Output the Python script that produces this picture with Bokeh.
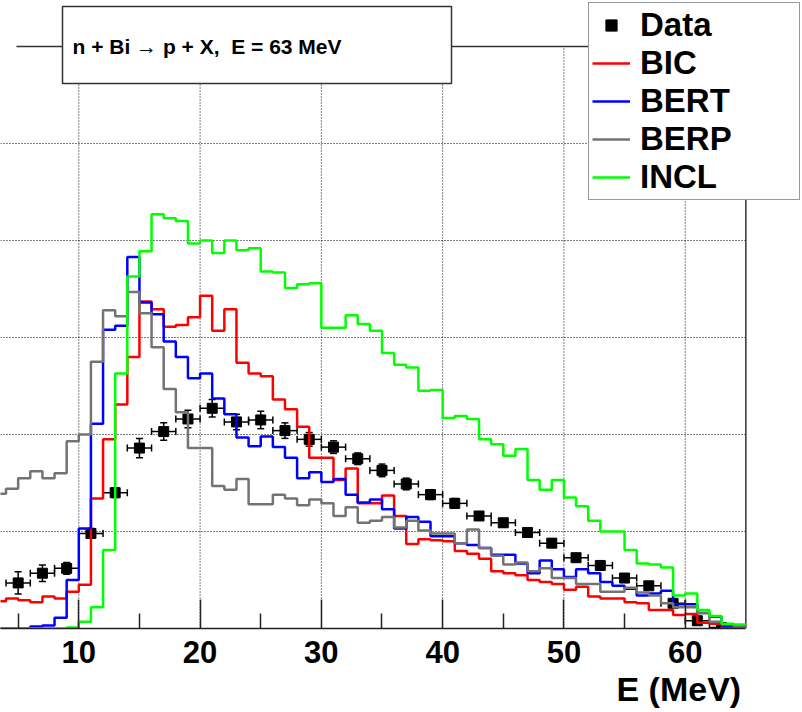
import numpy as np
from bokeh.plotting import figure
from bokeh.models import (Range1d, FixedTicker, ColumnDataSource, Whisker, TeeHead,
                          Legend, LegendItem, Title)
from bokeh.core.properties import value
from bokeh.embed import file_html
from bokeh.resources import INLINE

# ---------------- data ----------------
# lower edges of the 1 MeV bins that are visible
bin_low = list(range(3, 65))

bic = [0.28, 0.31, 0.29, 0.27, 0.33, 0.31, 0.38, 0.45, 1.34, 1.95,
       2.31, 2.80, 3.37, 3.29, 3.11, 3.13, 3.21, 3.43, 3.07, 3.29,
       2.74, 2.63, 2.60, 2.36, 2.26, 2.08, 1.76, 1.76, 1.53, 1.65,
       1.29, 1.29, 1.37, 1.16, 0.87, 0.92, 0.91, 0.90, 0.80, 0.77,
       0.72, 0.59, 0.57, 0.55, 0.50, 0.48, 0.46, 0.40, 0.43, 0.33,
       0.31, 0.31, 0.27, 0.26, 0.19, 0.19, 0.14, 0.15, 0.06, 0.05,
       0.01, 0.00]

bert = [0.00, 0.00, 0.00, 0.02, 0.03, 0.11, 0.50, 1.03, 2.11, 3.08,
        3.12, 3.83, 3.36, 3.24, 2.96, 2.80, 2.58, 2.63, 2.37, 2.21,
        1.97, 1.88, 1.98, 1.87, 1.76, 1.55, 1.61, 1.51, 1.54, 1.38,
        1.30, 1.33, 1.23, 1.03, 1.15, 1.10, 0.95, 0.95, 0.88, 0.86,
        0.83, 0.76, 0.76, 0.67, 0.57, 0.70, 0.61, 0.53, 0.61, 0.57,
        0.48, 0.44, 0.41, 0.34, 0.36, 0.39, 0.25, 0.25, 0.16, 0.12,
        0.03, 0.02]

berp = [1.39, 1.44, 1.55, 1.62, 1.55, 1.60, 1.93, 2.00, 2.75, 3.28,
        3.22, 3.47, 3.25, 2.90, 2.47, 2.23, 1.86, 1.86, 1.47, 1.43,
        1.54, 1.28, 1.28, 1.38, 1.34, 1.27, 1.33, 1.29, 1.16, 1.25,
        1.09, 1.11, 1.15, 1.04, 1.11, 1.01, 0.98, 0.98, 0.88, 1.02,
        0.83, 0.75, 0.66, 0.68, 0.59, 0.62, 0.52, 0.52, 0.46, 0.46,
        0.38, 0.38, 0.42, 0.37, 0.34, 0.26, 0.22, 0.22, 0.16, 0.07,
        0.04, 0.02]

incl = [0.00, 0.00, 0.00, 0.00, 0.00, 0.00, 0.01, 0.07, 0.22, 0.81,
        2.63, 3.63, 3.89, 4.27, 4.23, 4.20, 3.97, 4.00, 3.87, 4.00,
        3.90, 3.92, 3.68, 3.67, 3.51, 3.55, 3.56, 3.10, 3.10, 3.23,
        3.14, 3.07, 2.84, 2.72, 2.69, 2.45, 2.46, 2.17, 2.19, 2.16,
        1.95, 1.90, 1.78, 1.85, 1.53, 1.43, 1.53, 1.35, 1.26, 1.11,
        1.00, 1.00, 0.81, 0.67, 0.66, 0.63, 0.34, 0.36, 0.19, 0.13,
        0.05, 0.04]

data_e = list(range(5, 65, 2))
data_y = [0.47, 0.57, 0.62, 0.98, 1.40, 1.86, 2.03, 2.16, 2.27, 2.13,
          2.15, 2.04, 1.95, 1.87, 1.75, 1.63, 1.49, 1.38, 1.29, 1.16,
          1.09, 0.99, 0.88, 0.73, 0.65, 0.52, 0.44, 0.26, 0.08, 0.01]
data_err = [0.115, 0.085, 0.06, 0.05, 0.05, 0.10, 0.09, 0.09, 0.09, 0.08,
            0.09, 0.08, 0.07, 0.065, 0.06, 0.065, 0.06, 0.05, 0.05, 0.04,
            0.04, 0.04, 0.04, 0.03, 0.03, 0.03, 0.03, 0.03, 0.03, 0.02]
data_xerr = 1.0

x_ticks = [10, 20, 30, 40, 50, 60]
x_minor = [5, 15, 25, 35, 45, 55]
y_grid = [1, 2, 3, 4, 5]

series_names = ["BIC", "BERT", "BERP", "INCL"]
series_colors = ["#ff0000", "#0000ff", "#737373", "#00ff00"]

title_text = "n + Bi \u2192 p + X,\u00a0 E = 63 MeV"
x_title = "E (MeV)"

# ---------------- geometry ----------------
W, H = 802, 712
FB = 628          # frame bottom in px
SX = 12.128       # px per MeV
SY = 97.0         # px per y unit
X0 = 3.544
X_END = 65
Y_TOP = 6
FONT = "Liberation Sans"


def dx(px):
    return X0 + px / SX


def dy(py):
    return (FB - py) / SY


p = figure(width=W, height=H, output_backend="svg", toolbar_location=None,
           x_range=Range1d(X0, dx(W)), y_range=Range1d(0, dy(0)),
           y_axis_location=None,
           min_border_left=0, min_border_right=0, min_border_top=0,
           min_border_bottom=H - FB)
p.outline_line_color = None
p.grid.visible = False
p.background_fill_color = "white"
p.border_fill_color = "white"

ax = p.xaxis[0]
ax.ticker = FixedTicker(ticks=x_ticks, minor_ticks=x_minor)
ax.bounds = (X0, X_END)
ax.axis_line_color = "#222222"
ax.axis_line_width = 1.5
ax.major_tick_in = 29
ax.major_tick_out = 0
ax.minor_tick_in = 15
ax.minor_tick_out = 0
ax.major_tick_line_color = "#222222"
ax.major_tick_line_width = 1.5
ax.minor_tick_line_color = "#222222"
ax.minor_tick_line_width = 1.5
ax.major_label_text_font = FONT
ax.major_label_text_font_style = "bold"
ax.major_label_text_font_size = "31px"
ax.major_label_text_color = "black"
ax.major_label_standoff = 12

# axis title below the tick labels, ending near the right frame edge
p.add_layout(Title(text=x_title, align="left", offset=616,
                   text_font=FONT, text_font_style="bold",
                   text_font_size="34px", text_color="black",
                   standoff=5), "below")

# grid lines (dotted), limited to the frame
p.segment(x0=x_ticks, y0=[0] * len(x_ticks), x1=x_ticks, y1=[Y_TOP] * len(x_ticks),
          line_color="black", line_width=1, line_dash="1 2")
p.segment(x0=[X0] * len(y_grid), y0=y_grid, x1=[X_END] * len(y_grid), y1=y_grid,
          line_color="black", line_width=1, line_dash="1 2")

# frame lines (top and right)
p.segment(x0=[dx(16), X_END], y0=[Y_TOP, 0], x1=[X_END, X_END], y1=[Y_TOP, Y_TOP],
          line_color="#333333", line_width=1.5)

# title box
p.quad(left=[dx(62)], right=[dx(451)], top=[dy(6)], bottom=[dy(83)],
       fill_color="white", line_color="#333333", line_width=1.5)
p.text(x=[dx(72)], y=[dy(46)], text=[title_text], text_font=value(FONT),
       text_font_style="bold", text_font_size="21px", text_baseline="middle",
       text_align="left", text_color="black")

# data with error bars
src = ColumnDataSource(dict(
    x=data_e, y=data_y,
    lo=[y - e for y, e in zip(data_y, data_err)],
    hi=[y + e for y, e in zip(data_y, data_err)],
    xl=[x - data_xerr for x in data_e],
    xh=[x + data_xerr for x in data_e],
))
wy = Whisker(base="x", lower="lo", upper="hi", dimension="height", source=src,
             line_color="black", line_width=1.5,
             upper_head=TeeHead(size=7, line_color="black", line_width=1.5),
             lower_head=TeeHead(size=7, line_color="black", line_width=1.5))
wx = Whisker(base="y", lower="xl", upper="xh", dimension="width", source=src,
             line_color="black", line_width=1.5,
             upper_head=TeeHead(size=7, line_color="black", line_width=1.5),
             lower_head=TeeHead(size=7, line_color="black", line_width=1.5))
p.add_layout(wy)
p.add_layout(wx)
r_data = p.scatter("x", "y", source=src, marker="square", size=10,
                   fill_color="black", line_color="black")

# histograms
edges = bin_low + [bin_low[-1] + 1]
renderers = []
for vals, col in zip([bic, bert, berp, incl], series_colors):
    r = p.step(x=edges, y=vals + [vals[-1]], mode="after",
               line_color=col, line_width=2.5)
    renderers.append(r)

# legend
items = [LegendItem(label="Data", renderers=[r_data])]
for name, r in zip(series_names, renderers):
    items.append(LegendItem(label=name, renderers=[r]))
legend = Legend(items=items, location=(588, FB - 200), margin=0,
                padding=3, spacing=0, glyph_width=38, glyph_height=28,
                label_height=38, label_width=156, label_standoff=10,
                label_text_font=FONT, label_text_font_style="bold",
                label_text_font_size="33px", label_text_color="black",
                border_line_color="#333333", border_line_width=1.5,
                background_fill_color="white", background_fill_alpha=1.0)
p.add_layout(legend)

open("out.html", "w").write(file_html(p, INLINE))
